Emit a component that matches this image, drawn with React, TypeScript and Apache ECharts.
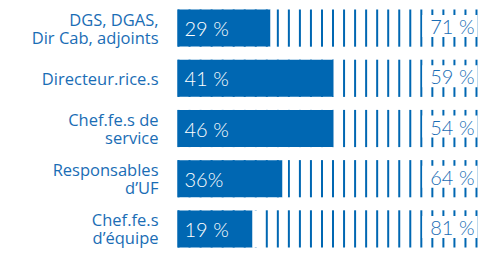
import React, { useEffect, useRef } from "react";
import * as echarts from "echarts";

// Categories (top to bottom)
const categories = [
  "DGS, DGAS,\nDir Cab, adjoints",
  "Directeur.rice.s",
  "Chef.fe.s de\nservice",
  "Responsables\nd’UF",
  "Chef.fe.s\nd’équipe",
];
// Values as labelled
const shareValues = [29, 41, 46, 36, 19];
const otherValues = [71, 59, 54, 64, 81];
const shareLabels = ["29 %", "41 %", "46 %", "36%", "19 %"];
const otherLabels = ["71 %", "59 %", "54 %", "64 %", "81 %"];
// Solid bar lengths as drawn in the picture (share of the 0–100 track)
const drawnShare = [31, 52, 52, 35, 25];
const trackValues = [100, 100, 100, 100, 100];
const spacerValues = [1.8, 1.8, 1.8, 1.8, 1.8];
const stripeCount = 28;

const BLUE = "#0067B2";
const TEXT_BLUE = "#1A6DB5";
const NUM_FONT = "Lato, 'Open Sans', sans-serif";
const CAT_FONT = "'Open Sans', Lato, sans-serif";

export default function App() {
  const ref = useRef<HTMLDivElement>(null);
  useEffect(() => {
    document.body.style.margin = "0";
    if (!ref.current) return;
    const chart = echarts.init(ref.current, undefined, { renderer: "svg" });
    chart.setOption({
      animation: false,
      grid: { left: 177.5, right: 7.5, top: 3, height: 252, containLabel: false },
      xAxis: { type: "value", min: 0, max: 100, show: false },
      yAxis: {
        type: "category",
        data: categories,
        inverse: true,
        axisLine: { show: false },
        axisTick: { show: false },
        splitLine: { show: false },
        axisLabel: {
          margin: 19,
          color: TEXT_BLUE,
          fontSize: 16.5,
          lineHeight: 18,
          fontFamily: CAT_FONT,
          align: "right",
        },
      },
      series: [
        {
          type: "pictorialBar",
          name: "other",
          data: trackValues,
          symbol: "rect",
          symbolRepeat: stripeCount,
          symbolSize: [2, 37],
          barWidth: 37,
          itemStyle: { color: BLUE },
          z: 1,
          silent: true,
          label: {
            show: true,
            position: "insideRight",
            distance: 0,
            formatter: (p: any) => otherLabels[p.dataIndex],
            color: TEXT_BLUE,
            fontSize: 20,
            fontWeight: 300,
            fontFamily: NUM_FONT,
            backgroundColor: "#ffffff",
            padding: [0, 3, 0, 8],
            lineHeight: 22,
            offset: [0, -2],
          },
        },
        {
          type: "bar",
          name: "share",
          stack: "s",
          data: drawnShare,
          barWidth: 37,
          itemStyle: { color: BLUE },
          z: 3,
          label: {
            show: true,
            position: "insideLeft",
            distance: 7,
            color: "#ffffff",
            fontSize: 20,
            fontWeight: 300,
            fontFamily: NUM_FONT,
            formatter: (p: any) => shareLabels[p.dataIndex],
          },
        },
        {
          type: "bar",
          name: "spacer",
          stack: "s",
          data: spacerValues,
          barWidth: 37,
          itemStyle: { color: "#ffffff" },
          z: 3,
          silent: true,
        },
      ],
    });
    return () => chart.dispose();
  }, []);
  return <div ref={ref} style={{ width: 485, height: 254 }} />;
}
